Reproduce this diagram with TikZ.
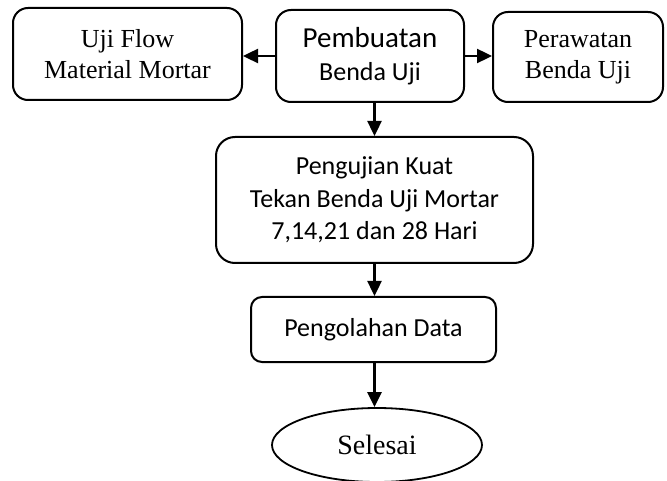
\documentclass[tikz,border=0pt]{standalone}
\usepackage{fontspec}
\setmainfont{Liberation Serif}
\newfontfamily\calib{Carlito}
\usetikzlibrary{arrows.meta,shapes.geometric}

\tikzset{
  box/.style={draw, line width=2pt, rounded corners=15pt, inner sep=0pt,
    align=center},
  serifbox/.style={box, font=\fontsize{26}{31}\selectfont},
  sansbox/.style={box, font=\calib\fontsize{26}{32.5}\selectfont},
  oval/.style={draw, line width=1.8pt, ellipse, inner sep=0pt,
    font=\fontsize{28}{32}\selectfont},
  flow/.style={line width=2.4pt, -{Triangle[length=15pt,width=14pt]}}
}

\begin{document}
\begin{tikzpicture}[x=1pt,y=-1pt]
  \useasboundingbox (0,0) rectangle (667,481);

  % process boxes
  \node[serifbox, minimum width=229pt, minimum height=92pt] (flow) at (127.5,54)
    {Uji Flow\\Material Mortar};
  \node[sansbox, minimum width=188pt, minimum height=92pt] (buat) at (370,56)
    {{\fontsize{29}{32}\selectfont Pembuatan}\\Benda Uji};
  \node[serifbox, minimum width=170pt, minimum height=90pt] (rawat) at (578,57)
    {Perawatan\\Benda Uji};
  \node[sansbox, rounded corners=19pt, minimum width=317pt, minimum height=126pt]
    (uji) at (374.5,200)
    {Pengujian Kuat\\Tekan Benda Uji Mortar\\7,14,21 dan 28 Hari};
  \node[sansbox, rounded corners=11pt, minimum width=245pt, minimum height=65pt]
    (olah) at (373.5,329.5)
    {Pengolahan Data};
  \node[oval, minimum width=210pt, minimum height=74pt] (end) at (377,445)
    {Selesai};

  % connectors
  \draw[flow] (buat.west) -- (buat.west -| flow.east);
  \draw[flow] (buat.east) -- (buat.east -| rawat.west);
  \draw[flow] (uji.north |- buat.south) -- (uji.north);
  \draw[flow] (uji.south) -- (uji.south |- olah.north);
  \draw[flow] (uji.south |- olah.south) -- (uji.south |- end.north);
\end{tikzpicture}
\end{document}
